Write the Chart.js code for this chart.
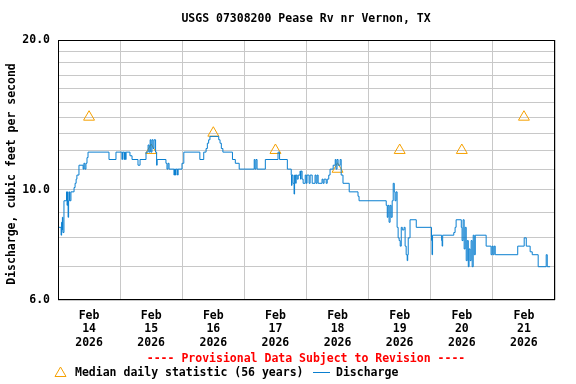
<!DOCTYPE html>
<html>
<head>
<meta charset="utf-8">
<script src="https://cdn.jsdelivr.net/npm/chart.js@4/dist/chart.umd.min.js"></script>
<style>
  html, body { margin: 0; padding: 0; background: #fff; }
  #wrap { width: 576px; height: 384px; }
</style>
</head>
<body>
<div id="wrap"><canvas id="chart" width="576" height="384"></canvas></div>
<script>
// DATA
const title = "USGS 07308200 Pease Rv nr Vernon, TX";
const yTitle = "Discharge, cubic feet per second";
const month = "Feb";
const year = "2026";
const days = ["14", "15", "16", "17", "18", "19", "20", "21"];

// hours after Feb 14 00:00, discharge in ft3/s
const flowHours = [
  0.0, 1.2, 1.4, 1.6, 1.7, 1.9, 2.3, 3.3, 3.5, 3.7, 3.9, 4.1, 4.4, 4.6, 5.0, 6.2, 6.6, 7.0, 7.3, 8.1,
  9.7, 10.0, 10.4, 10.8, 11.2, 11.6, 19.7, 22.4, 24.7, 24.9, 25.5, 25.7, 26.1, 26.3, 27.8, 28.6, 30.9, 31.7,
  34.0, 34.8, 35.2, 35.6, 35.9, 36.3, 36.7, 37.1, 37.7, 38.1, 38.3, 41.7, 42.1, 42.5, 42.9, 44.8, 45.0, 45.4,
  45.6, 46.2, 46.4, 47.9, 48.6, 54.8, 56.3, 57.2, 57.7, 58.2, 58.7, 62.1, 62.6, 63.1, 63.7, 67.4, 68.5, 70.0,
  75.8, 76.1, 76.5, 76.9, 80.1, 85.0, 85.6, 88.6, 90.1, 90.2, 90.4, 90.8, 91.2, 91.4, 91.8, 92.0, 92.4, 92.8,
  93.5, 93.7, 93.9, 94.3, 94.7, 95.5, 95.9, 96.2, 97.0, 97.4, 98.2, 99.3, 99.7, 100.1, 100.5, 102.0, 102.4, 102.8,
  103.6, 104.0, 104.6, 105.1, 106.3, 107.1, 107.4, 107.8, 108.2, 109.0, 109.4, 110.1, 112.5, 115.9, 116.3, 126.8,
  127.2, 127.5, 127.9, 128.3, 128.7, 129.1, 129.5, 129.9, 130.2, 130.6, 131.0, 131.4, 131.8, 132.2, 132.6, 133.0,
  133.7, 134.1, 134.5, 134.9, 135.1, 135.3, 136.0, 138.4, 144.3, 144.5, 144.7, 148.2, 148.4, 148.6, 152.9, 153.4,
  153.8, 155.8, 156.1, 156.5, 156.9, 157.3, 157.7, 158.1, 158.5, 158.8, 159.2, 159.6, 160.0, 160.4, 160.8, 161.2,
  165.4, 167.3, 167.7, 168.1, 168.5, 168.9, 177.6, 180.1, 180.9, 182.4, 183.2, 185.5, 188.6, 189.0, 190.1
];
const flowValues = [
  8.4, 8.1, 8.6, 8.3, 8.8, 8.2, 9.5, 9.9, 9.3, 9.9, 8.8, 9.5, 9.9, 9.5, 9.9, 10.1, 10.3, 10.5, 10.7, 11.2,
  11.0, 11.3, 11.0, 11.3, 11.6, 11.9, 11.5, 11.9, 11.5, 11.9, 11.5, 11.9, 11.5, 11.9, 11.7, 11.5, 11.2, 11.5,
  11.9, 12.3, 11.9, 12.6, 11.9, 12.6, 12.1, 12.6, 11.9, 11.2, 11.5, 11.3, 11.0, 11.3, 11.0, 10.7, 11.0, 10.7,
  11.0, 10.7, 11.0, 11.3, 11.9, 11.5, 11.9, 12.1, 12.4, 12.6, 12.8, 12.6, 12.4, 12.1, 11.9, 11.5, 11.3, 11.0,
  11.5, 11.0, 11.5, 11.0, 11.5, 11.9, 11.5, 11.0, 10.7, 10.2, 10.7, 10.3, 9.8, 10.7, 10.3, 10.7, 10.5, 10.7,
  10.9, 10.5, 10.9, 10.5, 10.3, 10.7, 10.3, 10.7, 10.3, 10.7, 10.3, 10.7, 10.3, 10.7, 10.3, 10.5, 10.3, 10.5,
  10.3, 10.5, 10.7, 11.0, 11.2, 11.5, 11.0, 11.5, 11.2, 11.5, 10.7, 10.3, 9.9, 9.7, 9.5, 9.3,
  8.8, 9.3, 8.6, 9.3, 8.8, 9.5, 10.3, 9.9, 9.5, 9.9, 8.4, 8.0, 7.9, 7.7, 8.4, 8.3,
  8.4, 7.7, 7.4, 7.2, 7.4, 8.0, 8.7, 8.4, 7.9, 7.4, 8.1, 7.9, 7.7, 8.1, 8.2, 8.4,
  8.7, 8.4, 7.9, 8.7, 7.6, 8.4, 7.2, 7.9, 7.0, 7.6, 7.2, 7.9, 7.0, 8.1, 7.4, 8.1,
  7.7, 7.4, 7.7, 7.4, 7.7, 7.4, 7.7, 8.0, 7.7, 7.5, 7.4, 7.0, 7.4, 7.0, 7.0
];

// median daily statistic, at noon of each day
const medianHours = [12, 36, 60, 84, 108, 132, 156, 180];
const medianValues = [14, 12, 13, 12, 11, 12, 12, 14];

const yGridValues = [6, 7, 8, 9, 10, 11, 12, 13, 14, 15, 16, 17, 18, 19, 20];
const yLabelValues = [6, 10, 20];

const FONT = '"DejaVu Sans Mono", monospace';
const BLUE = '#0a7fd0';
const ORANGE = '#f5a000';

// texts + frame drawn on canvas
const extras = {
    id: 'extras',
    afterDraw(chart) {
        const ctx = chart.ctx;
        const a = chart.chartArea;
        ctx.save();
        ctx.strokeStyle = '#000';
        ctx.lineWidth = 1;
        ctx.strokeRect(a.left + 0.5, a.top + 0.5, a.right - a.left - 1, a.bottom - a.top - 1);

        ctx.font = 'bold 11.5px ' + FONT;
        ctx.fillStyle = '#000';
        ctx.textAlign = 'center';
        ctx.textBaseline = 'middle';
        ctx.fillText(title, 306, 19);

        ctx.save();
        ctx.translate(12, 174);
        ctx.rotate(-Math.PI / 2);
        ctx.fillText(yTitle, 0, 0);
        ctx.restore();

        ctx.fillStyle = '#ff0000';
        ctx.fillText('---- Provisional Data Subject to Revision ----', 306, 359);

        // legend
        ctx.strokeStyle = ORANGE;
        ctx.beginPath();
        ctx.moveTo(60.5, 367);
        ctx.lineTo(66, 376.5);
        ctx.lineTo(55, 376.5);
        ctx.closePath();
        ctx.stroke();
        ctx.textAlign = 'left';
        ctx.fillStyle = '#000';
        ctx.fillText('Median daily statistic (56 years)', 75, 373);
        ctx.strokeStyle = BLUE;
        ctx.beginPath();
        ctx.moveTo(313, 372.5);
        ctx.lineTo(330, 372.5);
        ctx.stroke();
        ctx.fillText('Discharge', 336, 373);
        ctx.restore();
    }
};

let chart = new Chart(document.getElementById('chart'), {
    type: 'line',
    data: {
        datasets: [{
            label: 'Discharge',
            data: flowHours.map((h, i) => ({ x: h, y: flowValues[i] })),
            borderColor: BLUE,
            borderWidth: 1,
            pointRadius: 0,
            stepped: true,
            fill: false
        }, {
            label: 'Median daily statistic (56 years)',
            data: medianHours.map((h, i) => ({ x: h, y: medianValues[i] })),
            showLine: false,
            pointStyle: 'triangle',
            pointRadius: 6.3,
            borderColor: ORANGE,
            backgroundColor: 'rgba(0,0,0,0)',
            borderWidth: 1
        }]
    },
    options: {
        responsive: false,
        animation: false,
        devicePixelRatio: 1,
        layout: { padding: { left: 0, right: 21, top: 40, bottom: 0 } },
        plugins: {
            legend: { display: false },
            title: { display: false },
            tooltip: { enabled: false }
        },
        scales: {
            x: {
                type: 'linear',
                min: 0,
                max: 192,
                afterBuildTicks: s => { s.ticks = []; for (let v = 0; v <= 192; v += 12) s.ticks.push({ value: v }); },
                afterFit: s => { s.height = 84; },
                grid: {
                    color: c => (c.tick && c.tick.value % 24 === 0) ? '#c8c8c8' : 'rgba(0,0,0,0)',
                    drawTicks: false
                },
                border: { display: false },
                ticks: {
                    autoSkip: false,
                    maxRotation: 0,
                    padding: 9,
                    color: '#000',
                    font: { family: FONT, size: 11.5, weight: 'bold', lineHeight: 1.17 },
                    callback: v => (v % 24 === 12) ? [month, days[(v - 12) / 24], year] : ''
                }
            },
            y: {
                type: 'logarithmic',
                min: 6,
                max: 20,
                afterBuildTicks: s => { s.ticks = yGridValues.map(v => ({ value: v })); },
                afterFit: s => { s.width = 58; },
                grid: { color: '#c8c8c8', drawTicks: false },
                border: { display: false },
                ticks: {
                    padding: 8,
                    color: '#000',
                    font: { family: FONT, size: 11.5, weight: 'bold' },
                    callback: v => yLabelValues.includes(v) ? v.toFixed(1) : ''
                }
            }
        }
    },
    plugins: [extras]
});
</script>
</body>
</html>
